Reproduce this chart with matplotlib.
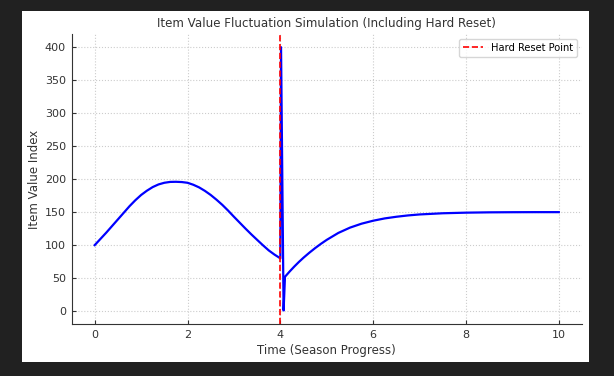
import matplotlib
matplotlib.use("Agg")
import matplotlib.pyplot as plt
from matplotlib.patches import Rectangle

# 数据：近似值
t_before = [0, 0.125, 0.25, 0.375, 0.5, 0.625, 0.75, 0.875, 1.0, 1.125, 1.25,
            1.375, 1.5, 1.625, 1.75, 1.875, 2.0, 2.125, 2.25, 2.375, 2.5,
            2.625, 2.75, 2.875, 3.0, 3.125, 3.25, 3.375, 3.5, 3.625, 3.75,
            3.875, 4.0]
v_before = [100, 109.5, 119, 129, 139, 149, 159, 168, 176, 182.5, 188,
            192, 194.5, 195.8, 196, 195.6, 194.5, 191.5, 187.5, 182.2, 176,
            168.8, 161, 152.3, 143, 134, 125, 116.3, 108, 99.8, 92,
            85.6, 80]

t_spike = [4.015, 4.07]
v_spike = [400, 1]

t_after = [4.1, 4.2, 4.3, 4.4, 4.5, 4.625, 4.75, 4.875, 5.0, 5.25, 5.5, 5.75,
           6.0, 6.25, 6.5, 6.75, 7.0, 7.5, 8.0, 8.5, 9.0, 9.5, 10.0]
v_after = [52, 60, 67.5, 74.5, 81, 88.5, 95.5, 102, 108, 118.5, 126.5, 132.5,
           137, 140.5, 143, 145, 146.5, 148.3, 149.2, 149.7, 149.9, 150, 150]

reset_time = 4

time = t_before + t_spike + t_after
value = v_before + v_spike + v_after

fig = plt.figure(figsize=(6.14, 3.76), dpi=100, facecolor="#212121")
# 白色图表区域
fig.patches.append(Rectangle((22 / 614, 1 - 362 / 376), 567 / 614, 351 / 376,
                             transform=fig.transFigure, facecolor="white",
                             edgecolor="none", zorder=-10))

ax = fig.add_axes([71.5 / 614, 1 - 324.3 / 376, (582 - 71.5) / 614, (324.3 - 34) / 376])
ax.set_facecolor("white")

ax.plot(time, value, color="blue", linewidth=1.6)
ax.axvline(reset_time, color="red", linestyle="--", linewidth=1.2, label="Hard Reset Point")

ax.set_xlim(-0.5, 10.5)
ax.set_ylim(-20, 420)
ax.set_xticks([0, 2, 4, 6, 8, 10])
ax.set_yticks(range(0, 401, 50))

ax.set_title("Item Value Fluctuation Simulation (Including Hard Reset)", fontsize=8.6, color="#333333", pad=5)
ax.set_xlabel("Time (Season Progress)", fontsize=8.5, color="#333333", labelpad=3)
ax.set_ylabel("Item Value Index", fontsize=8.5, color="#333333", labelpad=3)

ax.tick_params(axis="both", direction="in", length=3, labelsize=8, colors="#333333", pad=4)
ax.grid(True, linestyle=":", color="#cccccc", linewidth=0.8)
ax.spines["top"].set_visible(False)
ax.spines["right"].set_visible(False)
for s in ("left", "bottom"):
    ax.spines[s].set_color("#333333")

ax.legend(loc="upper right", fontsize=7.1)

fig.savefig("out.png", dpi=100, facecolor=fig.get_facecolor())
